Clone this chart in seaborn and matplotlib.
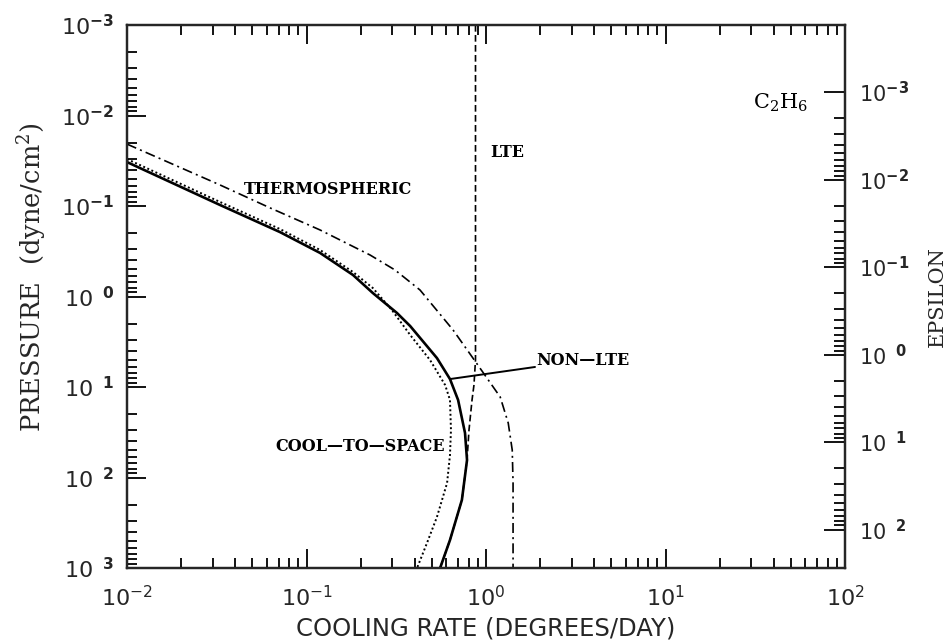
import numpy as np
import pandas as pd
import seaborn as sns
import matplotlib
matplotlib.use("Agg")
import matplotlib.pyplot as plt
from matplotlib.ticker import FixedLocator, FixedFormatter, NullFormatter

# ---- data: cooling rate (deg/day) vs pressure (dyne/cm^2) for C2H6 ----
thermo_rate = [0.0100, 0.0330, 0.0627, 0.119, 0.226, 0.311, 0.429, 0.655, 0.869, 1.20, 1.33, 1.40, 1.415, 1.415]
thermo_p    = [0.0207, 0.0586, 0.105, 0.184, 0.348, 0.509, 0.848, 2.34, 5.17, 12.9, 25.0, 49.7, 115.0, 1000.0]

nonlte_rate = [0.0100, 0.0330, 0.0711, 0.119, 0.1815, 0.234, 0.319, 0.378, 0.533, 0.630, 0.699, 0.764, 0.784, 0.734, 0.630, 0.555]
nonlte_p    = [0.0327, 0.0975, 0.194, 0.330, 0.578, 0.914, 1.52, 2.12, 4.79, 8.17, 13.9, 32.2, 64.1, 177.0, 491.0, 1000.0]

cts_rate = [0.0100, 0.0330, 0.0711, 0.119, 0.1815, 0.234, 0.299, 0.378, 0.488, 0.592, 0.630, 0.638, 0.630, 0.607, 0.533, 0.469, 0.413]
cts_p    = [0.0303, 0.0903, 0.1795, 0.306, 0.536, 0.805, 1.41, 2.66, 5.04, 9.51, 13.9, 29.9, 56.4, 115.0, 273.0, 530.0, 1000.0]

lte_rate = [0.874, 0.874, 0.857, 0.836, 0.804, 0.784, 0.734, 0.630, 0.555]
lte_p    = [0.001, 5.0, 9.5, 13.9, 29.9, 64.1, 177.0, 491.0, 1000.0]

# axis ticks
x_ticks = [1e-2, 1e-1, 1e0, 1e1, 1e2]
x_labels = [r"$10^{-2}$", r"$10^{-1}$", r"$10^{0}$", r"$10^{1}$", r"$10^{2}$"]
p_ticks = [1e-3, 1e-2, 1e-1, 1e0, 1e1, 1e2, 1e3]
p_labels = [r"$10^{\mathbf{-3}}$", r"$10^{\mathbf{-2}}$", r"$10^{\mathbf{-1}}$",
            r"$10^{\ \ \mathbf{0}}$", r"$10^{\ \ \mathbf{1}}$", r"$10^{\ \ \mathbf{2}}$",
            r"$10^{\ \ \mathbf{3}}$"]
eps_ticks = [1e-3, 1e-2, 1e-1, 1e0, 1e1, 1e2]
eps_labels = [r"$10^{\mathbf{-3}}$", r"$10^{\mathbf{-2}}$", r"$10^{\mathbf{-1}}$",
              r"$10^{\ \ \mathbf{0}}$", r"$10^{\ \ \mathbf{1}}$", r"$10^{\ \ \mathbf{2}}$"]

sns.set_style("ticks")
plt.rcParams["font.family"] = ["DejaVu Sans"]
plt.rcParams["mathtext.fontset"] = "dejavusans"

fig = plt.figure(figsize=(9.5, 6.44), dpi=100)
ax = fig.add_axes([127 / 950, 1 - 568 / 644, (845 - 127) / 950, (568 - 25) / 644])

def draw(rate, p, **kw):
    df = pd.DataFrame({"rate": rate, "p": p})
    sns.lineplot(data=df, x="rate", y="p", sort=False, estimator=None,
                 color="black", ax=ax, **kw)

draw(thermo_rate, thermo_p, lw=1.2, linestyle=(0, (6, 2.5, 1.2, 2.5)))
draw(lte_rate, lte_p, lw=1.2, linestyle=(0, (4, 2)))
draw(cts_rate, cts_p, lw=1.4, linestyle=(0, (1, 1.3)))
draw(nonlte_rate, nonlte_p, lw=1.9, linestyle="-")

ax.set_xscale("log")
ax.set_yscale("log")
ax.set_xlim(1e-2, 1e2)
ax.set_ylim(1e3, 1e-3)

ax.xaxis.set_major_locator(FixedLocator(x_ticks))
ax.xaxis.set_major_formatter(FixedFormatter(x_labels))
ax.yaxis.set_major_locator(FixedLocator(p_ticks))
ax.yaxis.set_major_formatter(FixedFormatter(p_labels))
x_minor = [k * 10.0 ** n for n in range(-2, 2) for k in range(2, 10)]
p_minor = [k * 10.0 ** n for n in range(-3, 3) for k in range(2, 10)]
ax.xaxis.set_minor_locator(FixedLocator(x_minor))
ax.yaxis.set_minor_locator(FixedLocator(p_minor))
ax.xaxis.set_minor_formatter(NullFormatter())
ax.yaxis.set_minor_formatter(NullFormatter())

ax.tick_params(axis="x", which="both", direction="in", top=True, bottom=True,
               width=1.3, color="black")
ax.tick_params(axis="y", which="both", direction="in", left=True, right=False,
               width=1.3, color="black")
ax.tick_params(which="major", length=14)
ax.tick_params(which="minor", length=7)
ax.tick_params(axis="x", which="major", pad=12, labelsize=16)
ax.tick_params(axis="y", which="major", pad=9, labelsize=16)
for s in ax.spines.values():
    s.set_linewidth(1.6)
    s.set_color("black")

ax.set_xlabel("COOLING RATE (DEGREES/DAY)", fontsize=17.5, labelpad=5)
ax.set_ylabel(r"PRESSURE  (dyne/cm$^\mathregular{2}$)", fontsize=18.5,
              family="DejaVu Serif")
ax.yaxis.set_label_coords(-0.108, 1 - (277 - 25) / 543)

# secondary epsilon axis (epsilon proportional to pressure)
ax2 = ax.twinx()
ax2.set_yscale("log")
ax2.set_ylim(10 ** 2.44, 10 ** -3.766)
ax2.yaxis.set_major_locator(FixedLocator(eps_ticks))
ax2.yaxis.set_major_formatter(FixedFormatter(eps_labels))
eps_minor = [k * 10.0 ** n for n in range(-3, 2) for k in range(2, 10)]
ax2.yaxis.set_minor_locator(FixedLocator(eps_minor))
ax2.yaxis.set_minor_formatter(NullFormatter())
ax2.tick_params(axis="y", which="both", direction="in", width=1.3, color="black")
ax2.tick_params(which="major", length=15, pad=10, labelsize=15)
ax2.tick_params(which="minor", length=8)
for s in ax2.spines.values():
    s.set_linewidth(1.6)
ax2.set_ylabel("EPSILON", fontsize=15, family="DejaVu Serif")
ax2.yaxis.set_label_coords((928 - 127) / 718, 0.5)

# annotations
lab_kw = dict(family="DejaVu Serif", fontweight="bold", fontsize=11.5, color="black")
ax.text(0.132, 0.0665, "THERMOSPHERIC", ha="center", va="center", **lab_kw)
ax.text(1.06, 0.0259, "LTE", ha="left", va="center", **lab_kw)
ax.text(1.90, 5.04, "NON\u2014LTE", ha="left", va="center", **lab_kw)
ax.text(0.198, 46.0, "COOL\u2014TO\u2014SPACE", ha="center", va="center", **lab_kw)
ax.text(43.5, 0.00728, r"C$_\mathregular{2}$H$_\mathregular{6}$", ha="center", va="center",
        family="DejaVu Serif", fontsize=15, color="black")
ax.plot([0.630, 1.875], [8.17, 6.01], color="black", lw=1.4)

fig.savefig("out.png", dpi=100, facecolor="white")
